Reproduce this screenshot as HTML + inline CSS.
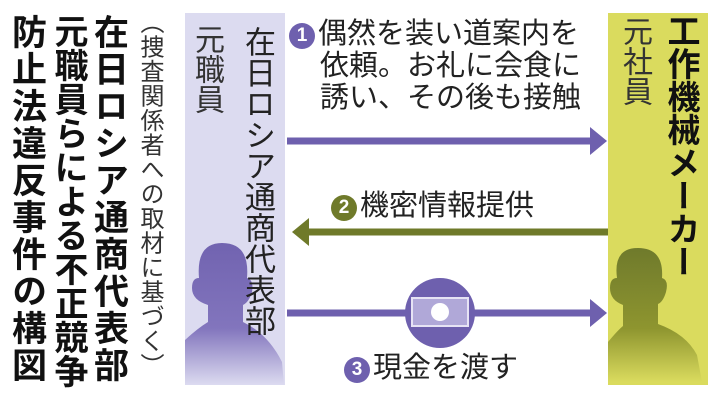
<!DOCTYPE html>
<html><head><meta charset="utf-8"><style>
body{margin:0;width:724px;height:400px;background:#fff;position:relative;overflow:hidden;font-family:"Liberation Sans","Noto Sans CJK JP",sans-serif;color:#222}
.v{position:absolute;writing-mode:vertical-rl;white-space:nowrap;line-height:1}
.t{position:absolute;white-space:nowrap;line-height:1;font-size:29px}
.n{display:inline-block;width:26px;height:26px;border-radius:50%;color:#fff;font-size:19px;font-weight:bold;text-align:center;line-height:26px;vertical-align:2px;margin-right:3px}
</style></head><body>
<div class="v" style="left:91px;top:14px;font-size:35px;font-weight:bold;letter-spacing:2px;color:#111">在日ロシア通商代表部</div>
<div class="v" style="left:51px;top:14px;font-size:34px;font-weight:bold;letter-spacing:0px;color:#111">元職員らによる不正競争</div>
<div class="v" style="left:9px;top:14px;font-size:35px;font-weight:bold;letter-spacing:2px;color:#111">防止法違反事件の構図</div>
<div class="v" style="left:137px;top:10px;font-size:24px;letter-spacing:0.5px;color:#333">（捜査関係者への取材に基づく）</div>

<div style="position:absolute;left:185px;top:13px;width:100px;height:372px;background:#dcdbf0"></div>
<div style="position:absolute;left:608px;top:13px;width:100px;height:372px;background:#dadb5e"></div>

<svg style="position:absolute;left:0;top:0" width="724" height="400">
<defs>
<linearGradient id="gp" x1="0" y1="0" x2="0" y2="1"><stop offset="0" stop-color="#7163b0"/><stop offset="0.6" stop-color="#8275bd"/><stop offset="1" stop-color="#dcdbf0"/></linearGradient>
<linearGradient id="gy" x1="0" y1="0" x2="0" y2="1"><stop offset="0" stop-color="#6f7a2c"/><stop offset="0.6" stop-color="#8e952f"/><stop offset="1" stop-color="#dadb5e"/></linearGradient>
</defs>
<path d="M185 385 L185 340 Q198 328 208 322 L208 305 Q192 300 192 288 Q192 278 199 278 Q196 243 222 243 Q250 243 247 278 Q254 280 252 292 Q249 302 243 305 L243 322 Q268 334 282 362 L284 385 Z" fill="url(#gp)"/>
<path d="M608 382 L608 342 Q618 330 623 326 L623 305 Q610 300 610 288 Q610 278 617 278 Q613 248 638 248 Q664 248 662 278 Q669 280 666 292 Q663 302 658 304 L658 324 Q686 334 697 355 L702 382 Z" fill="url(#gy)"/>
<line x1="287" y1="141" x2="592" y2="141" stroke="#6e60ae" stroke-width="7"/>
<polygon points="590,127 607,141 590,155" fill="#6e60ae"/>
<line x1="305" y1="232" x2="608" y2="232" stroke="#6f7a2a" stroke-width="7"/>
<polygon points="309,218 292,232 309,246" fill="#6f7a2a"/>
<line x1="287" y1="313" x2="592" y2="313" stroke="#6e60ae" stroke-width="7"/>
<polygon points="590,299 607,313 590,327" fill="#6e60ae"/>
<circle cx="440" cy="313" r="35" fill="#6e60ae"/>
<rect x="412" y="298" width="56" height="28" fill="#b0a8d8" stroke="#e6e3f4" stroke-width="2"/>
<circle cx="440" cy="312" r="9" fill="#fff"/>
</svg>

<div class="v" style="left:191px;top:24px;font-size:30px;color:#333">元職員</div>
<div class="v" style="left:242px;top:26px;font-size:31px;color:#222">在日ロシア通商代表部</div>
<div class="v" style="left:619px;top:16px;font-size:30px;color:#333">元社員</div>
<div class="v" style="left:665px;top:14px;font-size:33px;font-weight:bold;color:#111">工作機械メーカー</div>

<div class="t" style="left:289px;top:20px"><span class="n" style="background:#6e60ae">1</span>偶然を装い道案内を</div>
<div class="t" style="left:320px;top:52px">依頼。お礼に会食に</div>
<div class="t" style="left:320px;top:84px">誘い、その後も接触</div>
<div class="t" style="left:331px;top:192px"><span class="n" style="background:#6f7a2a">2</span>機密情報提供</div>
<div class="t" style="left:344px;top:354px"><span class="n" style="background:#6e60ae">3</span>現金を渡す</div>
</body></html>
